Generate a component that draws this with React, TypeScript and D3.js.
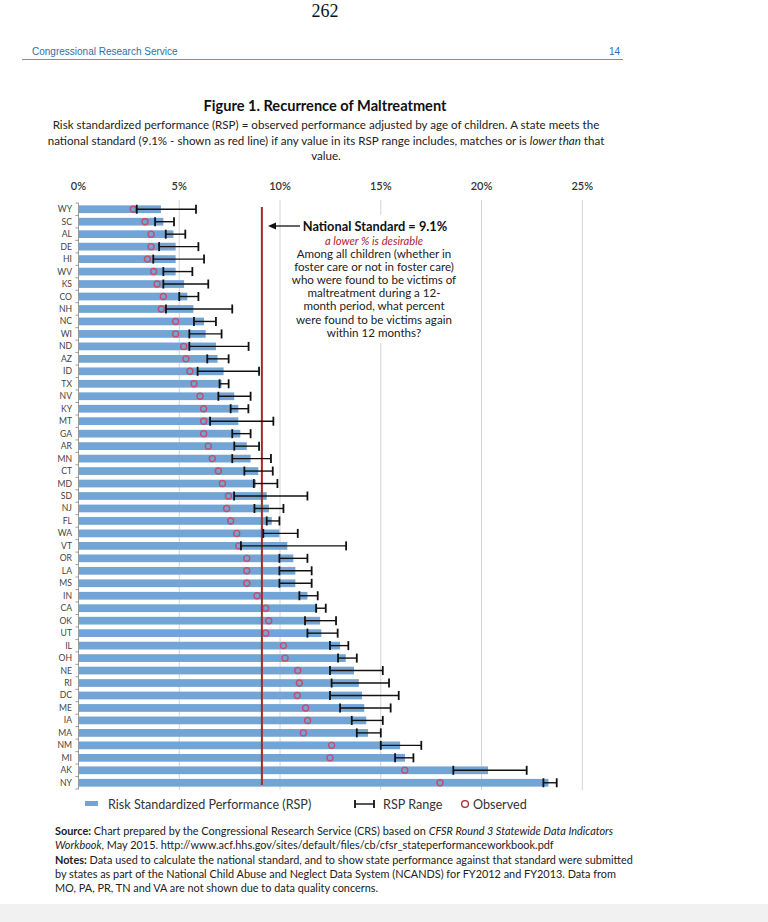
import * as d3 from "d3";

// state order as listed in the figure (top to bottom)
const states = ["WY","SC","AL","DE","HI","WV","KS","CO","NH","NC","WI","ND","AZ","ID","TX","NV","KY","MT","GA","AR","MN","CT","MD","SD","NJ","FL","WA","VT","OR","LA","MS","IN","CA","OK","UT","IL","OH","NE","RI","DC","ME","IA","MA","NM","MI","AK","NY"];
// risk standardized performance (%)
const rsp = [4.09,4.21,4.71,4.82,4.82,4.82,5.24,5.4,5.7,6.23,6.31,6.82,6.9,7.2,7.1,7.73,7.93,7.93,8.03,8.35,8.54,8.92,8.8,9.34,9.45,9.59,9.97,10.36,10.66,10.76,10.76,11.36,11.85,11.99,12.05,12.98,13.26,13.67,13.91,14.07,14.18,14.28,14.37,15.96,16.2,20.32,23.32];
// RSP range low / high (%)
const rangeLow = [2.89,3.8,4.33,4.0,3.71,4.21,4.21,5.0,4.34,5.73,5.5,5.5,6.39,5.91,7.0,6.94,7.55,6.53,7.63,7.73,7.63,8.23,8.7,7.72,8.73,9.34,9.17,8.06,9.97,9.97,9.97,10.96,11.79,11.24,11.36,12.48,12.88,12.48,12.56,12.48,12.98,13.56,13.81,15.0,15.71,18.6,23.07];
const rangeHigh = [5.83,4.74,5.3,5.95,6.23,5.65,6.44,5.95,7.63,6.82,7.1,8.44,7.45,8.96,7.45,8.54,8.43,9.67,8.54,8.96,9.55,9.64,9.87,11.36,10.17,9.97,10.88,13.28,11.36,11.57,11.57,11.87,12.27,12.78,12.86,13.39,13.81,15.1,15.41,15.89,15.49,15.1,15.0,17.01,16.62,22.24,23.73];
// observed performance (%)
const observed = [2.72,3.3,3.6,3.6,3.42,3.73,3.9,4.21,4.11,4.82,4.82,5.22,5.33,5.53,5.73,6.03,6.21,6.21,6.21,6.44,6.64,6.94,7.14,7.44,7.35,7.55,7.85,7.95,8.35,8.35,8.35,8.86,9.29,9.44,9.29,10.17,10.25,10.88,10.96,10.86,11.27,11.37,11.16,12.56,12.48,16.19,17.94];
const xTicks = [0, 5, 10, 15, 20, 25];
const nationalStandard = 9.1;

const noteLines = [
  "Among all children (whether in",
  "foster care or not in foster care)",
  "who were found to be victims of",
  "maltreatment during a 12-",
  "month period, what percent",
  "were found to be victims again",
  "within 12 months?",
];

const FONT = "Lato, 'Open Sans', sans-serif";
const BAR = "#72a4d5";
const RED = "#a8282c";
const OBS = "#c0506e";

export default function App() {
  const x = d3.scaleLinear().domain([0, 25]).range([78.5, 582.3]);
  const y = d3
    .scaleBand()
    .domain(states)
    .range([203, 789])
    .paddingInner(0.38)
    .paddingOuter(0.19);
  const bw = y.bandwidth();
  const step = y.step();
  const top = 200;
  const bottom = 790;

  return (
    <svg width={768} height={922} style={{ position: "absolute", left: 0, top: 0 }}>
      <rect width={768} height={922} fill="#fff" />
      <rect y={904} width={768} height={18} fill="#f1f1f1" />
      <text x={325} y={17} textAnchor="middle" fontFamily="'Liberation Serif', serif" fontSize={18} fill="#111">262</text>

      {/* page header */}
      <text x={32} y={55} fontFamily="'Liberation Sans', Arial, sans-serif" fontSize={10} fill="#2f6fa8">Congressional Research Service</text>
      <text x={620} y={55} textAnchor="end" fontFamily="'Liberation Sans', Arial, sans-serif" fontSize={10} fill="#2f6fa8">14</text>
      <line x1={22} x2={623} y1={59.5} y2={59.5} stroke="#6b94bd" strokeWidth={1.2} />

      {/* titles */}
      <text x={325} y={111} textAnchor="middle" fontFamily={FONT} fontWeight="bold" fontSize={14.6} fill="#111">Figure 1. Recurrence of Maltreatment</text>
      <g fontFamily={FONT} fontSize={11.6} fill="#222" textAnchor="middle">
        <text x={326} y={129}>Risk standardized performance (RSP) = observed performance adjusted by age of children. A state meets the</text>
        <text x={326} y={145}>
          national standard (9.1% - shown as red line) if any value in its RSP range includes, matches or is <tspan fontStyle="italic">lower than</tspan> that
        </text>
        <text x={326} y={160}>value.</text>
      </g>

      {/* x axis labels on top */}
      <g fontFamily={FONT} fontSize={11} fontWeight={600} fill="#333" textAnchor="middle">
        {xTicks.map((t) => (
          <text key={t} x={x(t)} y={190}>{t}%</text>
        ))}
      </g>

      {/* gridlines */}
      {xTicks.slice(1).map((t) => (
        <line key={t} x1={x(t)} x2={x(t)} y1={top} y2={bottom} stroke="#d4d4d4" strokeWidth={1} />
      ))}

      {/* annotation background covers gridlines */}
      <rect x={290} y={215} width={170} height={128} fill="#fff" />

      {/* bars */}
      {states.map((s, i) => (
        <rect key={s} x={x(0)} y={y(s)!} width={x(rsp[i]) - x(0)} height={bw} fill={BAR} />
      ))}

      {/* left axis */}
      <line x1={x(0)} x2={x(0)} y1={203} y2={789} stroke="#999" strokeWidth={1} />
      {d3.range(states.length + 1).map((k) => (
        <line key={k} x1={x(0) - 3} x2={x(0)} y1={203 + k * step} y2={203 + k * step} stroke="#999" strokeWidth={1} />
      ))}
      <g fontFamily={FONT} fontSize={8.6} fill="#444" textAnchor="end">
        {states.map((s) => (
          <text key={s} x={72} y={y(s)! + bw / 2 + 3}>{s}</text>
        ))}
      </g>

      {/* observed circles */}
      {states.map((s, i) => (
        <circle key={s} cx={x(observed[i])} cy={y(s)! + bw / 2} r={3} fill="none" stroke={OBS} strokeWidth={1.4} />
      ))}

      {/* national standard */}
      <line x1={x(nationalStandard)} x2={x(nationalStandard)} y1={207} y2={785} stroke={RED} strokeWidth={2} />

      {/* RSP range */}
      {states.map((s, i) => {
        const cy = y(s)! + bw / 2;
        return (
          <g key={s} stroke="#111">
            <line x1={x(rangeLow[i])} x2={x(rangeHigh[i])} y1={cy} y2={cy} strokeWidth={1.4} />
            <line x1={x(rangeLow[i])} x2={x(rangeLow[i])} y1={cy - 4.5} y2={cy + 4.5} strokeWidth={1.8} />
            <line x1={x(rangeHigh[i])} x2={x(rangeHigh[i])} y1={cy - 4.5} y2={cy + 4.5} strokeWidth={1.8} />
          </g>
        );
      })}

      {/* annotation */}
      <line x1={300} x2={272} y1={226} y2={226} stroke="#111" strokeWidth={1.3} />
      <path d="M268,226 L276,222.5 L276,229.5 Z" fill="#111" />
      <text x={375} y={230.5} textAnchor="middle" fontFamily={FONT} fontWeight="bold" fontSize={12.8} fill="#111">National Standard = 9.1%</text>
      <text x={374} y={244.5} textAnchor="middle" fontFamily={FONT} fontStyle="italic" fontSize={11.2} fill={RED}>a lower % is desirable</text>
      <g fontFamily={FONT} fontSize={11.6} fill="#222" textAnchor="middle">
        {noteLines.map((l, k) => (
          <text key={k} x={374} y={257.5 + k * 13.2}>{l}</text>
        ))}
      </g>

      {/* legend */}
      <rect x={85} y={801} width={13} height={5} fill={BAR} />
      <g fontFamily={FONT} fontSize={12.6} fill="#333">
        <text x={108} y={808.5}>Risk Standardized Performance (RSP)</text>
        <text x={383} y={808.5}>RSP Range</text>
        <text x={473} y={808.5}>Observed</text>
      </g>
      <g stroke="#111">
        <line x1={355} x2={374} y1={804} y2={804} strokeWidth={1.4} />
        <line x1={355} x2={355} y1={800} y2={808} strokeWidth={1.8} />
        <line x1={374} x2={374} y1={800} y2={808} strokeWidth={1.8} />
      </g>
      <circle cx={465} cy={804} r={3.4} fill="none" stroke={RED} strokeWidth={1.3} />

      {/* source and notes */}
      <g fontFamily={FONT} fontSize={10.9} fill="#222">
        <text x={55} y={835}>
          <tspan fontWeight="bold">Source:</tspan> Chart prepared by the Congressional Research Service (CRS) based on <tspan fontStyle="italic">CFSR Round 3 Statewide Data Indicators</tspan>
        </text>
        <text x={55} y={848.5}>
          <tspan fontStyle="italic">Workbook</tspan>, May 2015. http://www.acf.hhs.gov/sites/default/files/cb/cfsr_stateperformanceworkbook.pdf
        </text>
        <text x={55} y={863.5}>
          <tspan fontWeight="bold">Notes:</tspan> Data used to calculate the national standard, and to show state performance against that standard were submitted
        </text>
        <text x={55} y={877.5}>by states as part of the National Child Abuse and Neglect Data System (NCANDS) for FY2012 and FY2013. Data from</text>
        <text x={55} y={891.5}>MO, PA, PR, TN and VA are not shown due to data quality concerns.</text>
      </g>
    </svg>
  );
}
